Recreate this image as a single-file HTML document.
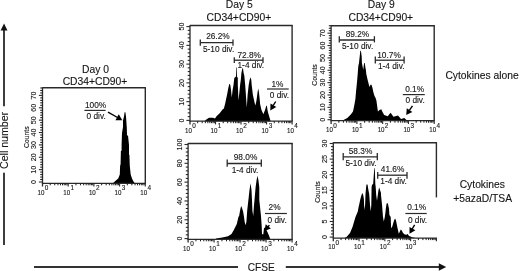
<!DOCTYPE html>
<html><head><meta charset="utf-8"><style>
html,body{margin:0;padding:0;background:#fff;width:520px;height:271px;overflow:hidden}
</style></head><body>
<svg width="520" height="271" viewBox="0 0 520 271" style="display:block;will-change:transform;font-family:'Liberation Sans', sans-serif">
<rect width="520" height="271" fill="#fff"/>
<polygon points="112.9,183.3 115.3,181 118.2,178.6 119.8,174.6 120.1,166 120.6,164 120.9,150.8 121.6,150.8 121.6,145 122,133 123,127 123,120.6 124,116.6 124.6,112.3 125.4,112.3 126,116.6 126.3,120.6 126.8,128 127,135.6 128,135.6 129,145 129,154.7 129.4,154.7 129.8,166 130.7,174.6 132,178.6 133.2,181 134.8,183.3" fill="#000"/>
<line x1="42.5" y1="87.8" x2="145.8" y2="87.8" stroke="#2a2a2a" stroke-width="1.4"/>
<line x1="145.3" y1="87.3" x2="145.3" y2="183.3" stroke="#2a2a2a" stroke-width="1.4"/>
<line x1="42.5" y1="87.2" x2="42.5" y2="186.5" stroke="#2a2a2a" stroke-width="1.3"/>
<line x1="41.9" y1="183.3" x2="145.9" y2="183.3" stroke="#2a2a2a" stroke-width="1.3"/>
<line x1="50.24" y1="183.3" x2="50.24" y2="185.3" stroke="#1a1a1a" stroke-width="1.0"/>
<line x1="54.76" y1="183.3" x2="54.76" y2="185.3" stroke="#1a1a1a" stroke-width="1.0"/>
<line x1="57.97" y1="183.3" x2="57.97" y2="185.3" stroke="#1a1a1a" stroke-width="1.0"/>
<line x1="60.46" y1="183.3" x2="60.46" y2="185.3" stroke="#1a1a1a" stroke-width="1.0"/>
<line x1="62.5" y1="183.3" x2="62.5" y2="185.3" stroke="#1a1a1a" stroke-width="1.0"/>
<line x1="64.22" y1="183.3" x2="64.22" y2="185.3" stroke="#1a1a1a" stroke-width="1.0"/>
<line x1="65.71" y1="183.3" x2="65.71" y2="185.3" stroke="#1a1a1a" stroke-width="1.0"/>
<line x1="67.02" y1="183.3" x2="67.02" y2="185.3" stroke="#1a1a1a" stroke-width="1.0"/>
<line x1="75.94" y1="183.3" x2="75.94" y2="185.3" stroke="#1a1a1a" stroke-width="1.0"/>
<line x1="80.46" y1="183.3" x2="80.46" y2="185.3" stroke="#1a1a1a" stroke-width="1.0"/>
<line x1="83.67" y1="183.3" x2="83.67" y2="185.3" stroke="#1a1a1a" stroke-width="1.0"/>
<line x1="86.16" y1="183.3" x2="86.16" y2="185.3" stroke="#1a1a1a" stroke-width="1.0"/>
<line x1="88.2" y1="183.3" x2="88.2" y2="185.3" stroke="#1a1a1a" stroke-width="1.0"/>
<line x1="89.92" y1="183.3" x2="89.92" y2="185.3" stroke="#1a1a1a" stroke-width="1.0"/>
<line x1="91.41" y1="183.3" x2="91.41" y2="185.3" stroke="#1a1a1a" stroke-width="1.0"/>
<line x1="92.72" y1="183.3" x2="92.72" y2="185.3" stroke="#1a1a1a" stroke-width="1.0"/>
<line x1="101.64" y1="183.3" x2="101.64" y2="185.3" stroke="#1a1a1a" stroke-width="1.0"/>
<line x1="106.16" y1="183.3" x2="106.16" y2="185.3" stroke="#1a1a1a" stroke-width="1.0"/>
<line x1="109.37" y1="183.3" x2="109.37" y2="185.3" stroke="#1a1a1a" stroke-width="1.0"/>
<line x1="111.86" y1="183.3" x2="111.86" y2="185.3" stroke="#1a1a1a" stroke-width="1.0"/>
<line x1="113.9" y1="183.3" x2="113.9" y2="185.3" stroke="#1a1a1a" stroke-width="1.0"/>
<line x1="115.62" y1="183.3" x2="115.62" y2="185.3" stroke="#1a1a1a" stroke-width="1.0"/>
<line x1="117.11" y1="183.3" x2="117.11" y2="185.3" stroke="#1a1a1a" stroke-width="1.0"/>
<line x1="118.42" y1="183.3" x2="118.42" y2="185.3" stroke="#1a1a1a" stroke-width="1.0"/>
<line x1="127.34" y1="183.3" x2="127.34" y2="185.3" stroke="#1a1a1a" stroke-width="1.0"/>
<line x1="131.86" y1="183.3" x2="131.86" y2="185.3" stroke="#1a1a1a" stroke-width="1.0"/>
<line x1="135.07" y1="183.3" x2="135.07" y2="185.3" stroke="#1a1a1a" stroke-width="1.0"/>
<line x1="137.56" y1="183.3" x2="137.56" y2="185.3" stroke="#1a1a1a" stroke-width="1.0"/>
<line x1="139.6" y1="183.3" x2="139.6" y2="185.3" stroke="#1a1a1a" stroke-width="1.0"/>
<line x1="141.32" y1="183.3" x2="141.32" y2="185.3" stroke="#1a1a1a" stroke-width="1.0"/>
<line x1="142.81" y1="183.3" x2="142.81" y2="185.3" stroke="#1a1a1a" stroke-width="1.0"/>
<line x1="144.12" y1="183.3" x2="144.12" y2="185.3" stroke="#1a1a1a" stroke-width="1.0"/>
<line x1="68.2" y1="183.3" x2="68.2" y2="186.5" stroke="#2a2a2a" stroke-width="1.1"/>
<line x1="93.9" y1="183.3" x2="93.9" y2="186.5" stroke="#2a2a2a" stroke-width="1.1"/>
<line x1="119.6" y1="183.3" x2="119.6" y2="186.5" stroke="#2a2a2a" stroke-width="1.1"/>
<line x1="145.3" y1="183.3" x2="145.3" y2="186.5" stroke="#2a2a2a" stroke-width="1.1"/>
<text x="37.5" y="194.6" font-size="7.0" text-anchor="start" fill="#151515" stroke="#151515" stroke-width="0.12" textLength="6.9" lengthAdjust="spacingAndGlyphs">10</text>
<text x="44.7" y="190.4" font-size="6.4" text-anchor="start" fill="#151515" stroke="#151515" stroke-width="0.12" >0</text>
<text x="63.2" y="194.6" font-size="7.0" text-anchor="start" fill="#151515" stroke="#151515" stroke-width="0.12" textLength="6.9" lengthAdjust="spacingAndGlyphs">10</text>
<text x="70.4" y="190.4" font-size="6.4" text-anchor="start" fill="#151515" stroke="#151515" stroke-width="0.12" >1</text>
<text x="88.9" y="194.6" font-size="7.0" text-anchor="start" fill="#151515" stroke="#151515" stroke-width="0.12" textLength="6.9" lengthAdjust="spacingAndGlyphs">10</text>
<text x="96.1" y="190.4" font-size="6.4" text-anchor="start" fill="#151515" stroke="#151515" stroke-width="0.12" >2</text>
<text x="114.6" y="194.6" font-size="7.0" text-anchor="start" fill="#151515" stroke="#151515" stroke-width="0.12" textLength="6.9" lengthAdjust="spacingAndGlyphs">10</text>
<text x="121.8" y="190.4" font-size="6.4" text-anchor="start" fill="#151515" stroke="#151515" stroke-width="0.12" >3</text>
<text x="140.3" y="194.6" font-size="7.0" text-anchor="start" fill="#151515" stroke="#151515" stroke-width="0.12" textLength="6.9" lengthAdjust="spacingAndGlyphs">10</text>
<text x="147.5" y="190.4" font-size="6.4" text-anchor="start" fill="#151515" stroke="#151515" stroke-width="0.12" >4</text>
<line x1="38.9" y1="182" x2="42.5" y2="182" stroke="#2a2a2a" stroke-width="1.1"/>
<line x1="40.2" y1="179.53" x2="42.5" y2="179.53" stroke="#1a1a1a" stroke-width="1.0"/>
<line x1="40.2" y1="177.05" x2="42.5" y2="177.05" stroke="#1a1a1a" stroke-width="1.0"/>
<line x1="40.2" y1="174.58" x2="42.5" y2="174.58" stroke="#1a1a1a" stroke-width="1.0"/>
<line x1="40.2" y1="172.1" x2="42.5" y2="172.1" stroke="#1a1a1a" stroke-width="1.0"/>
<line x1="38.9" y1="169.63" x2="42.5" y2="169.63" stroke="#2a2a2a" stroke-width="1.1"/>
<line x1="40.2" y1="167.16" x2="42.5" y2="167.16" stroke="#1a1a1a" stroke-width="1.0"/>
<line x1="40.2" y1="164.68" x2="42.5" y2="164.68" stroke="#1a1a1a" stroke-width="1.0"/>
<line x1="40.2" y1="162.21" x2="42.5" y2="162.21" stroke="#1a1a1a" stroke-width="1.0"/>
<line x1="40.2" y1="159.73" x2="42.5" y2="159.73" stroke="#1a1a1a" stroke-width="1.0"/>
<line x1="38.9" y1="157.26" x2="42.5" y2="157.26" stroke="#2a2a2a" stroke-width="1.1"/>
<line x1="40.2" y1="154.79" x2="42.5" y2="154.79" stroke="#1a1a1a" stroke-width="1.0"/>
<line x1="40.2" y1="152.31" x2="42.5" y2="152.31" stroke="#1a1a1a" stroke-width="1.0"/>
<line x1="40.2" y1="149.84" x2="42.5" y2="149.84" stroke="#1a1a1a" stroke-width="1.0"/>
<line x1="40.2" y1="147.36" x2="42.5" y2="147.36" stroke="#1a1a1a" stroke-width="1.0"/>
<line x1="38.9" y1="144.89" x2="42.5" y2="144.89" stroke="#2a2a2a" stroke-width="1.1"/>
<line x1="40.2" y1="142.42" x2="42.5" y2="142.42" stroke="#1a1a1a" stroke-width="1.0"/>
<line x1="40.2" y1="139.94" x2="42.5" y2="139.94" stroke="#1a1a1a" stroke-width="1.0"/>
<line x1="40.2" y1="137.47" x2="42.5" y2="137.47" stroke="#1a1a1a" stroke-width="1.0"/>
<line x1="40.2" y1="134.99" x2="42.5" y2="134.99" stroke="#1a1a1a" stroke-width="1.0"/>
<line x1="38.9" y1="132.52" x2="42.5" y2="132.52" stroke="#2a2a2a" stroke-width="1.1"/>
<line x1="40.2" y1="130.05" x2="42.5" y2="130.05" stroke="#1a1a1a" stroke-width="1.0"/>
<line x1="40.2" y1="127.57" x2="42.5" y2="127.57" stroke="#1a1a1a" stroke-width="1.0"/>
<line x1="40.2" y1="125.1" x2="42.5" y2="125.1" stroke="#1a1a1a" stroke-width="1.0"/>
<line x1="40.2" y1="122.62" x2="42.5" y2="122.62" stroke="#1a1a1a" stroke-width="1.0"/>
<line x1="38.9" y1="120.15" x2="42.5" y2="120.15" stroke="#2a2a2a" stroke-width="1.1"/>
<line x1="40.2" y1="117.68" x2="42.5" y2="117.68" stroke="#1a1a1a" stroke-width="1.0"/>
<line x1="40.2" y1="115.2" x2="42.5" y2="115.2" stroke="#1a1a1a" stroke-width="1.0"/>
<line x1="40.2" y1="112.73" x2="42.5" y2="112.73" stroke="#1a1a1a" stroke-width="1.0"/>
<line x1="40.2" y1="110.25" x2="42.5" y2="110.25" stroke="#1a1a1a" stroke-width="1.0"/>
<line x1="38.9" y1="107.78" x2="42.5" y2="107.78" stroke="#2a2a2a" stroke-width="1.1"/>
<line x1="40.2" y1="105.31" x2="42.5" y2="105.31" stroke="#1a1a1a" stroke-width="1.0"/>
<line x1="40.2" y1="102.83" x2="42.5" y2="102.83" stroke="#1a1a1a" stroke-width="1.0"/>
<line x1="40.2" y1="100.36" x2="42.5" y2="100.36" stroke="#1a1a1a" stroke-width="1.0"/>
<line x1="40.2" y1="97.88" x2="42.5" y2="97.88" stroke="#1a1a1a" stroke-width="1.0"/>
<line x1="38.9" y1="95.41" x2="42.5" y2="95.41" stroke="#2a2a2a" stroke-width="1.1"/>
<line x1="40.2" y1="92.94" x2="42.5" y2="92.94" stroke="#1a1a1a" stroke-width="1.0"/>
<line x1="40.2" y1="90.46" x2="42.5" y2="90.46" stroke="#1a1a1a" stroke-width="1.0"/>
<line x1="40.2" y1="87.99" x2="42.5" y2="87.99" stroke="#1a1a1a" stroke-width="1.0"/>
<text transform="translate(33.5,182) rotate(-90)" x="0" y="2.59" font-size="7.2" text-anchor="middle" fill="#151515" stroke="#151515" stroke-width="0.12" >0</text>
<text transform="translate(33.5,169.63) rotate(-90)" x="0" y="2.59" font-size="7.2" text-anchor="middle" fill="#151515" stroke="#151515" stroke-width="0.12" >10</text>
<text transform="translate(33.5,157.26) rotate(-90)" x="0" y="2.59" font-size="7.2" text-anchor="middle" fill="#151515" stroke="#151515" stroke-width="0.12" >20</text>
<text transform="translate(33.5,144.89) rotate(-90)" x="0" y="2.59" font-size="7.2" text-anchor="middle" fill="#151515" stroke="#151515" stroke-width="0.12" >30</text>
<text transform="translate(33.5,132.52) rotate(-90)" x="0" y="2.59" font-size="7.2" text-anchor="middle" fill="#151515" stroke="#151515" stroke-width="0.12" >40</text>
<text transform="translate(33.5,120.15) rotate(-90)" x="0" y="2.59" font-size="7.2" text-anchor="middle" fill="#151515" stroke="#151515" stroke-width="0.12" >50</text>
<text transform="translate(33.5,107.78) rotate(-90)" x="0" y="2.59" font-size="7.2" text-anchor="middle" fill="#151515" stroke="#151515" stroke-width="0.12" >60</text>
<text transform="translate(33.5,95.41) rotate(-90)" x="0" y="2.59" font-size="7.2" text-anchor="middle" fill="#151515" stroke="#151515" stroke-width="0.12" >70</text>
<text transform="translate(26.2,137.2) rotate(-90)" x="0" y="2.45" font-size="6.8" text-anchor="middle" fill="#151515" stroke="#151515" stroke-width="0.12" >Counts</text>
<text x="95.5" y="72.7" font-size="10.3" text-anchor="middle" fill="#151515" stroke="#151515" stroke-width="0.12" >Day 0</text>
<text x="95" y="84.6" font-size="10.3" text-anchor="middle" fill="#151515" stroke="#151515" stroke-width="0.12" >CD34+CD90+</text>
<text x="95.6" y="107.6" font-size="8.3" text-anchor="middle" fill="#151515" stroke="#151515" stroke-width="0.12" >100%</text>
<line x1="84.4" y1="110.4" x2="105.6" y2="110.4" stroke="#2a2a2a" stroke-width="1.2"/>
<text x="96.2" y="119.3" font-size="8.3" text-anchor="middle" fill="#151515" stroke="#151515" stroke-width="0.12" >0 div.</text>
<line x1="108" y1="112.1" x2="117.51" y2="117.49" stroke="#000" stroke-width="1.4"/>
<polygon points="122.3,120.2 115.4,120.2 118.76,114.28" fill="#000"/>
<polygon points="204.5,121.2 206,119.8 209,117.8 213,117.8 215,118.4 216.5,116.3 219.7,113.2 222.5,109.5 223.9,108.5 225.3,103 225.9,100 227,95 228.3,88 229.2,84.5 229.7,83.8 230.3,85 231,90 231.8,97.4 232.6,90 233.5,85 234.3,78 236,76.4 236.3,67.5 236.8,67.5 237,76.4 237.8,78 237.8,85 238.5,100.5 239.4,92 240.1,85 240.8,80 241.2,75.6 241.4,72.9 242.4,68.3 243,68.3 243.6,72.9 244.3,75.6 245.2,85 246.8,107.5 247.6,95 248.7,85 249.6,80 250.6,77.2 251.3,80 251.7,85 252.9,95 254.8,103.6 255.3,105.5 256.2,102 256.8,98.2 257.6,92 258.3,88.5 258.9,92 259.6,98.2 260.1,104 261.4,109.7 263.4,114.2 265,110 266.3,105.7 266.9,105.7 267.5,110 268.2,113 269.5,117.4 270.7,121.2" fill="#000"/>
<line x1="190" y1="25.5" x2="292.6" y2="25.5" stroke="#2a2a2a" stroke-width="1.4"/>
<line x1="292.1" y1="25" x2="292.1" y2="121.2" stroke="#2a2a2a" stroke-width="1.4"/>
<line x1="190" y1="24.9" x2="190" y2="124.4" stroke="#2a2a2a" stroke-width="1.3"/>
<line x1="189.4" y1="121.2" x2="292.7" y2="121.2" stroke="#2a2a2a" stroke-width="1.3"/>
<line x1="197.68" y1="121.2" x2="197.68" y2="123.2" stroke="#1a1a1a" stroke-width="1.0"/>
<line x1="202.18" y1="121.2" x2="202.18" y2="123.2" stroke="#1a1a1a" stroke-width="1.0"/>
<line x1="205.37" y1="121.2" x2="205.37" y2="123.2" stroke="#1a1a1a" stroke-width="1.0"/>
<line x1="207.84" y1="121.2" x2="207.84" y2="123.2" stroke="#1a1a1a" stroke-width="1.0"/>
<line x1="209.86" y1="121.2" x2="209.86" y2="123.2" stroke="#1a1a1a" stroke-width="1.0"/>
<line x1="211.57" y1="121.2" x2="211.57" y2="123.2" stroke="#1a1a1a" stroke-width="1.0"/>
<line x1="213.05" y1="121.2" x2="213.05" y2="123.2" stroke="#1a1a1a" stroke-width="1.0"/>
<line x1="214.36" y1="121.2" x2="214.36" y2="123.2" stroke="#1a1a1a" stroke-width="1.0"/>
<line x1="223.21" y1="121.2" x2="223.21" y2="123.2" stroke="#1a1a1a" stroke-width="1.0"/>
<line x1="227.7" y1="121.2" x2="227.7" y2="123.2" stroke="#1a1a1a" stroke-width="1.0"/>
<line x1="230.89" y1="121.2" x2="230.89" y2="123.2" stroke="#1a1a1a" stroke-width="1.0"/>
<line x1="233.37" y1="121.2" x2="233.37" y2="123.2" stroke="#1a1a1a" stroke-width="1.0"/>
<line x1="235.39" y1="121.2" x2="235.39" y2="123.2" stroke="#1a1a1a" stroke-width="1.0"/>
<line x1="237.1" y1="121.2" x2="237.1" y2="123.2" stroke="#1a1a1a" stroke-width="1.0"/>
<line x1="238.58" y1="121.2" x2="238.58" y2="123.2" stroke="#1a1a1a" stroke-width="1.0"/>
<line x1="239.88" y1="121.2" x2="239.88" y2="123.2" stroke="#1a1a1a" stroke-width="1.0"/>
<line x1="248.73" y1="121.2" x2="248.73" y2="123.2" stroke="#1a1a1a" stroke-width="1.0"/>
<line x1="253.23" y1="121.2" x2="253.23" y2="123.2" stroke="#1a1a1a" stroke-width="1.0"/>
<line x1="256.42" y1="121.2" x2="256.42" y2="123.2" stroke="#1a1a1a" stroke-width="1.0"/>
<line x1="258.89" y1="121.2" x2="258.89" y2="123.2" stroke="#1a1a1a" stroke-width="1.0"/>
<line x1="260.91" y1="121.2" x2="260.91" y2="123.2" stroke="#1a1a1a" stroke-width="1.0"/>
<line x1="262.62" y1="121.2" x2="262.62" y2="123.2" stroke="#1a1a1a" stroke-width="1.0"/>
<line x1="264.1" y1="121.2" x2="264.1" y2="123.2" stroke="#1a1a1a" stroke-width="1.0"/>
<line x1="265.41" y1="121.2" x2="265.41" y2="123.2" stroke="#1a1a1a" stroke-width="1.0"/>
<line x1="274.26" y1="121.2" x2="274.26" y2="123.2" stroke="#1a1a1a" stroke-width="1.0"/>
<line x1="278.75" y1="121.2" x2="278.75" y2="123.2" stroke="#1a1a1a" stroke-width="1.0"/>
<line x1="281.94" y1="121.2" x2="281.94" y2="123.2" stroke="#1a1a1a" stroke-width="1.0"/>
<line x1="284.42" y1="121.2" x2="284.42" y2="123.2" stroke="#1a1a1a" stroke-width="1.0"/>
<line x1="286.44" y1="121.2" x2="286.44" y2="123.2" stroke="#1a1a1a" stroke-width="1.0"/>
<line x1="288.15" y1="121.2" x2="288.15" y2="123.2" stroke="#1a1a1a" stroke-width="1.0"/>
<line x1="289.63" y1="121.2" x2="289.63" y2="123.2" stroke="#1a1a1a" stroke-width="1.0"/>
<line x1="290.93" y1="121.2" x2="290.93" y2="123.2" stroke="#1a1a1a" stroke-width="1.0"/>
<line x1="215.53" y1="121.2" x2="215.53" y2="124.4" stroke="#2a2a2a" stroke-width="1.1"/>
<line x1="241.05" y1="121.2" x2="241.05" y2="124.4" stroke="#2a2a2a" stroke-width="1.1"/>
<line x1="266.58" y1="121.2" x2="266.58" y2="124.4" stroke="#2a2a2a" stroke-width="1.1"/>
<line x1="292.1" y1="121.2" x2="292.1" y2="124.4" stroke="#2a2a2a" stroke-width="1.1"/>
<text x="185" y="132.5" font-size="7.0" text-anchor="start" fill="#151515" stroke="#151515" stroke-width="0.12" textLength="6.9" lengthAdjust="spacingAndGlyphs">10</text>
<text x="192.2" y="128.3" font-size="6.4" text-anchor="start" fill="#151515" stroke="#151515" stroke-width="0.12" >0</text>
<text x="210.53" y="132.5" font-size="7.0" text-anchor="start" fill="#151515" stroke="#151515" stroke-width="0.12" textLength="6.9" lengthAdjust="spacingAndGlyphs">10</text>
<text x="217.72" y="128.3" font-size="6.4" text-anchor="start" fill="#151515" stroke="#151515" stroke-width="0.12" >1</text>
<text x="236.05" y="132.5" font-size="7.0" text-anchor="start" fill="#151515" stroke="#151515" stroke-width="0.12" textLength="6.9" lengthAdjust="spacingAndGlyphs">10</text>
<text x="243.25" y="128.3" font-size="6.4" text-anchor="start" fill="#151515" stroke="#151515" stroke-width="0.12" >2</text>
<text x="261.58" y="132.5" font-size="7.0" text-anchor="start" fill="#151515" stroke="#151515" stroke-width="0.12" textLength="6.9" lengthAdjust="spacingAndGlyphs">10</text>
<text x="268.78" y="128.3" font-size="6.4" text-anchor="start" fill="#151515" stroke="#151515" stroke-width="0.12" >3</text>
<text x="287.1" y="132.5" font-size="7.0" text-anchor="start" fill="#151515" stroke="#151515" stroke-width="0.12" textLength="6.9" lengthAdjust="spacingAndGlyphs">10</text>
<text x="294.3" y="128.3" font-size="6.4" text-anchor="start" fill="#151515" stroke="#151515" stroke-width="0.12" >4</text>
<line x1="186.4" y1="120.4" x2="190" y2="120.4" stroke="#2a2a2a" stroke-width="1.1"/>
<line x1="187.7" y1="116.65" x2="190" y2="116.65" stroke="#1a1a1a" stroke-width="1.0"/>
<line x1="187.7" y1="112.9" x2="190" y2="112.9" stroke="#1a1a1a" stroke-width="1.0"/>
<line x1="187.7" y1="109.14" x2="190" y2="109.14" stroke="#1a1a1a" stroke-width="1.0"/>
<line x1="187.7" y1="105.39" x2="190" y2="105.39" stroke="#1a1a1a" stroke-width="1.0"/>
<line x1="186.4" y1="101.64" x2="190" y2="101.64" stroke="#2a2a2a" stroke-width="1.1"/>
<line x1="187.7" y1="97.89" x2="190" y2="97.89" stroke="#1a1a1a" stroke-width="1.0"/>
<line x1="187.7" y1="94.14" x2="190" y2="94.14" stroke="#1a1a1a" stroke-width="1.0"/>
<line x1="187.7" y1="90.38" x2="190" y2="90.38" stroke="#1a1a1a" stroke-width="1.0"/>
<line x1="187.7" y1="86.63" x2="190" y2="86.63" stroke="#1a1a1a" stroke-width="1.0"/>
<line x1="186.4" y1="82.88" x2="190" y2="82.88" stroke="#2a2a2a" stroke-width="1.1"/>
<line x1="187.7" y1="79.13" x2="190" y2="79.13" stroke="#1a1a1a" stroke-width="1.0"/>
<line x1="187.7" y1="75.38" x2="190" y2="75.38" stroke="#1a1a1a" stroke-width="1.0"/>
<line x1="187.7" y1="71.62" x2="190" y2="71.62" stroke="#1a1a1a" stroke-width="1.0"/>
<line x1="187.7" y1="67.87" x2="190" y2="67.87" stroke="#1a1a1a" stroke-width="1.0"/>
<line x1="186.4" y1="64.12" x2="190" y2="64.12" stroke="#2a2a2a" stroke-width="1.1"/>
<line x1="187.7" y1="60.37" x2="190" y2="60.37" stroke="#1a1a1a" stroke-width="1.0"/>
<line x1="187.7" y1="56.62" x2="190" y2="56.62" stroke="#1a1a1a" stroke-width="1.0"/>
<line x1="187.7" y1="52.86" x2="190" y2="52.86" stroke="#1a1a1a" stroke-width="1.0"/>
<line x1="187.7" y1="49.11" x2="190" y2="49.11" stroke="#1a1a1a" stroke-width="1.0"/>
<line x1="186.4" y1="45.36" x2="190" y2="45.36" stroke="#2a2a2a" stroke-width="1.1"/>
<line x1="187.7" y1="41.61" x2="190" y2="41.61" stroke="#1a1a1a" stroke-width="1.0"/>
<line x1="187.7" y1="37.86" x2="190" y2="37.86" stroke="#1a1a1a" stroke-width="1.0"/>
<line x1="187.7" y1="34.1" x2="190" y2="34.1" stroke="#1a1a1a" stroke-width="1.0"/>
<line x1="187.7" y1="30.35" x2="190" y2="30.35" stroke="#1a1a1a" stroke-width="1.0"/>
<line x1="186.4" y1="26.6" x2="190" y2="26.6" stroke="#2a2a2a" stroke-width="1.1"/>
<text transform="translate(181,120.4) rotate(-90)" x="0" y="2.59" font-size="7.2" text-anchor="middle" fill="#151515" stroke="#151515" stroke-width="0.12" >0</text>
<text transform="translate(181,101.64) rotate(-90)" x="0" y="2.59" font-size="7.2" text-anchor="middle" fill="#151515" stroke="#151515" stroke-width="0.12" >10</text>
<text transform="translate(181,82.88) rotate(-90)" x="0" y="2.59" font-size="7.2" text-anchor="middle" fill="#151515" stroke="#151515" stroke-width="0.12" >20</text>
<text transform="translate(181,64.12) rotate(-90)" x="0" y="2.59" font-size="7.2" text-anchor="middle" fill="#151515" stroke="#151515" stroke-width="0.12" >30</text>
<text transform="translate(181,45.36) rotate(-90)" x="0" y="2.59" font-size="7.2" text-anchor="middle" fill="#151515" stroke="#151515" stroke-width="0.12" >40</text>
<text transform="translate(181,26.6) rotate(-90)" x="0" y="2.59" font-size="7.2" text-anchor="middle" fill="#151515" stroke="#151515" stroke-width="0.12" >50</text>
<text x="239.3" y="8" font-size="10.3" text-anchor="middle" fill="#151515" stroke="#151515" stroke-width="0.12" >Day 5</text>
<text x="238.9" y="20.5" font-size="10.3" text-anchor="middle" fill="#151515" stroke="#151515" stroke-width="0.12" >CD34+CD90+</text>
<text x="217.9" y="38.5" font-size="8.3" text-anchor="middle" fill="#151515" stroke="#151515" stroke-width="0.12" >26.2%</text>
<line x1="200.3" y1="42.6" x2="233" y2="42.6" stroke="#2a2a2a" stroke-width="1.3"/>
<line x1="200.3" y1="39.5" x2="200.3" y2="45.8" stroke="#2a2a2a" stroke-width="1.3"/>
<line x1="233" y1="39.5" x2="233" y2="45.8" stroke="#2a2a2a" stroke-width="1.3"/>
<text x="218.6" y="51.9" font-size="8.3" text-anchor="middle" fill="#151515" stroke="#151515" stroke-width="0.12" >5-10 div.</text>
<text x="249.2" y="58.3" font-size="8.3" text-anchor="middle" fill="#151515" stroke="#151515" stroke-width="0.12" >72.8%</text>
<line x1="234.3" y1="60.2" x2="263" y2="60.2" stroke="#2a2a2a" stroke-width="1.3"/>
<line x1="234.3" y1="57.3" x2="234.3" y2="63.1" stroke="#2a2a2a" stroke-width="1.3"/>
<line x1="263" y1="57.3" x2="263" y2="63.1" stroke="#2a2a2a" stroke-width="1.3"/>
<text x="250.8" y="67.7" font-size="8.3" text-anchor="middle" fill="#151515" stroke="#151515" stroke-width="0.12" >1-4 div.</text>
<text x="277.5" y="86.5" font-size="8.3" text-anchor="middle" fill="#151515" stroke="#151515" stroke-width="0.12" >1%</text>
<line x1="267" y1="89" x2="288.7" y2="89" stroke="#2a2a2a" stroke-width="1.2"/>
<text x="279.4" y="98.4" font-size="8.3" text-anchor="middle" fill="#151515" stroke="#151515" stroke-width="0.12" >0 div.</text>
<line x1="275.7" y1="101.5" x2="273.15" y2="105.7" stroke="#000" stroke-width="1.4"/>
<polygon points="270.3,110.4 270.51,103.51 276.32,107.03" fill="#000"/>
<polygon points="342.5,120.7 344,119.8 347.3,118 350.8,114.5 353,111.6 354.2,105.8 355.4,99 356,92 357.1,81 357.7,74 358.3,66 359,63 359.3,60 359.7,56.6 360.3,50.8 360.9,50.8 361.7,56.6 361.9,63.1 363.2,69.7 364.1,63.1 364.7,63.1 365.5,68 365.9,70 366.3,74 367.9,81 369.5,87 370.4,85 371,84.6 371.6,85 372.5,88 373.3,92 374.5,96 375.6,98 376.4,100.5 377.9,111.6 379.5,110 381.3,109.3 382.5,112 384.2,115 387.7,116.2 390.6,112.8 393.5,116.8 398,115.6 401,119.1 404.4,118 406.7,120.3 407.2,120.7" fill="#000"/>
<line x1="331.1" y1="25.7" x2="434.7" y2="25.7" stroke="#2a2a2a" stroke-width="1.4"/>
<line x1="434.2" y1="25.2" x2="434.2" y2="120.7" stroke="#2a2a2a" stroke-width="1.4"/>
<line x1="331.1" y1="25.1" x2="331.1" y2="123.9" stroke="#2a2a2a" stroke-width="1.3"/>
<line x1="330.5" y1="120.7" x2="434.8" y2="120.7" stroke="#2a2a2a" stroke-width="1.3"/>
<line x1="338.86" y1="120.7" x2="338.86" y2="122.7" stroke="#1a1a1a" stroke-width="1.0"/>
<line x1="343.4" y1="120.7" x2="343.4" y2="122.7" stroke="#1a1a1a" stroke-width="1.0"/>
<line x1="346.62" y1="120.7" x2="346.62" y2="122.7" stroke="#1a1a1a" stroke-width="1.0"/>
<line x1="349.12" y1="120.7" x2="349.12" y2="122.7" stroke="#1a1a1a" stroke-width="1.0"/>
<line x1="351.16" y1="120.7" x2="351.16" y2="122.7" stroke="#1a1a1a" stroke-width="1.0"/>
<line x1="352.88" y1="120.7" x2="352.88" y2="122.7" stroke="#1a1a1a" stroke-width="1.0"/>
<line x1="354.38" y1="120.7" x2="354.38" y2="122.7" stroke="#1a1a1a" stroke-width="1.0"/>
<line x1="355.7" y1="120.7" x2="355.7" y2="122.7" stroke="#1a1a1a" stroke-width="1.0"/>
<line x1="364.63" y1="120.7" x2="364.63" y2="122.7" stroke="#1a1a1a" stroke-width="1.0"/>
<line x1="369.17" y1="120.7" x2="369.17" y2="122.7" stroke="#1a1a1a" stroke-width="1.0"/>
<line x1="372.39" y1="120.7" x2="372.39" y2="122.7" stroke="#1a1a1a" stroke-width="1.0"/>
<line x1="374.89" y1="120.7" x2="374.89" y2="122.7" stroke="#1a1a1a" stroke-width="1.0"/>
<line x1="376.93" y1="120.7" x2="376.93" y2="122.7" stroke="#1a1a1a" stroke-width="1.0"/>
<line x1="378.66" y1="120.7" x2="378.66" y2="122.7" stroke="#1a1a1a" stroke-width="1.0"/>
<line x1="380.15" y1="120.7" x2="380.15" y2="122.7" stroke="#1a1a1a" stroke-width="1.0"/>
<line x1="381.47" y1="120.7" x2="381.47" y2="122.7" stroke="#1a1a1a" stroke-width="1.0"/>
<line x1="390.41" y1="120.7" x2="390.41" y2="122.7" stroke="#1a1a1a" stroke-width="1.0"/>
<line x1="394.95" y1="120.7" x2="394.95" y2="122.7" stroke="#1a1a1a" stroke-width="1.0"/>
<line x1="398.17" y1="120.7" x2="398.17" y2="122.7" stroke="#1a1a1a" stroke-width="1.0"/>
<line x1="400.67" y1="120.7" x2="400.67" y2="122.7" stroke="#1a1a1a" stroke-width="1.0"/>
<line x1="402.71" y1="120.7" x2="402.71" y2="122.7" stroke="#1a1a1a" stroke-width="1.0"/>
<line x1="404.43" y1="120.7" x2="404.43" y2="122.7" stroke="#1a1a1a" stroke-width="1.0"/>
<line x1="405.93" y1="120.7" x2="405.93" y2="122.7" stroke="#1a1a1a" stroke-width="1.0"/>
<line x1="407.25" y1="120.7" x2="407.25" y2="122.7" stroke="#1a1a1a" stroke-width="1.0"/>
<line x1="416.18" y1="120.7" x2="416.18" y2="122.7" stroke="#1a1a1a" stroke-width="1.0"/>
<line x1="420.72" y1="120.7" x2="420.72" y2="122.7" stroke="#1a1a1a" stroke-width="1.0"/>
<line x1="423.94" y1="120.7" x2="423.94" y2="122.7" stroke="#1a1a1a" stroke-width="1.0"/>
<line x1="426.44" y1="120.7" x2="426.44" y2="122.7" stroke="#1a1a1a" stroke-width="1.0"/>
<line x1="428.48" y1="120.7" x2="428.48" y2="122.7" stroke="#1a1a1a" stroke-width="1.0"/>
<line x1="430.21" y1="120.7" x2="430.21" y2="122.7" stroke="#1a1a1a" stroke-width="1.0"/>
<line x1="431.7" y1="120.7" x2="431.7" y2="122.7" stroke="#1a1a1a" stroke-width="1.0"/>
<line x1="433.02" y1="120.7" x2="433.02" y2="122.7" stroke="#1a1a1a" stroke-width="1.0"/>
<line x1="356.88" y1="120.7" x2="356.88" y2="123.9" stroke="#2a2a2a" stroke-width="1.1"/>
<line x1="382.65" y1="120.7" x2="382.65" y2="123.9" stroke="#2a2a2a" stroke-width="1.1"/>
<line x1="408.43" y1="120.7" x2="408.43" y2="123.9" stroke="#2a2a2a" stroke-width="1.1"/>
<line x1="434.2" y1="120.7" x2="434.2" y2="123.9" stroke="#2a2a2a" stroke-width="1.1"/>
<text x="326.1" y="132" font-size="7.0" text-anchor="start" fill="#151515" stroke="#151515" stroke-width="0.12" textLength="6.9" lengthAdjust="spacingAndGlyphs">10</text>
<text x="333.3" y="127.8" font-size="6.4" text-anchor="start" fill="#151515" stroke="#151515" stroke-width="0.12" >0</text>
<text x="351.88" y="132" font-size="7.0" text-anchor="start" fill="#151515" stroke="#151515" stroke-width="0.12" textLength="6.9" lengthAdjust="spacingAndGlyphs">10</text>
<text x="359.07" y="127.8" font-size="6.4" text-anchor="start" fill="#151515" stroke="#151515" stroke-width="0.12" >1</text>
<text x="377.65" y="132" font-size="7.0" text-anchor="start" fill="#151515" stroke="#151515" stroke-width="0.12" textLength="6.9" lengthAdjust="spacingAndGlyphs">10</text>
<text x="384.85" y="127.8" font-size="6.4" text-anchor="start" fill="#151515" stroke="#151515" stroke-width="0.12" >2</text>
<text x="403.43" y="132" font-size="7.0" text-anchor="start" fill="#151515" stroke="#151515" stroke-width="0.12" textLength="6.9" lengthAdjust="spacingAndGlyphs">10</text>
<text x="410.62" y="127.8" font-size="6.4" text-anchor="start" fill="#151515" stroke="#151515" stroke-width="0.12" >3</text>
<text x="429.2" y="132" font-size="7.0" text-anchor="start" fill="#151515" stroke="#151515" stroke-width="0.12" textLength="6.9" lengthAdjust="spacingAndGlyphs">10</text>
<text x="436.4" y="127.8" font-size="6.4" text-anchor="start" fill="#151515" stroke="#151515" stroke-width="0.12" >4</text>
<line x1="327.5" y1="119.7" x2="331.1" y2="119.7" stroke="#2a2a2a" stroke-width="1.1"/>
<line x1="328.8" y1="117.23" x2="331.1" y2="117.23" stroke="#1a1a1a" stroke-width="1.0"/>
<line x1="328.8" y1="114.76" x2="331.1" y2="114.76" stroke="#1a1a1a" stroke-width="1.0"/>
<line x1="328.8" y1="112.28" x2="331.1" y2="112.28" stroke="#1a1a1a" stroke-width="1.0"/>
<line x1="328.8" y1="109.81" x2="331.1" y2="109.81" stroke="#1a1a1a" stroke-width="1.0"/>
<line x1="327.5" y1="107.34" x2="331.1" y2="107.34" stroke="#2a2a2a" stroke-width="1.1"/>
<line x1="328.8" y1="104.87" x2="331.1" y2="104.87" stroke="#1a1a1a" stroke-width="1.0"/>
<line x1="328.8" y1="102.4" x2="331.1" y2="102.4" stroke="#1a1a1a" stroke-width="1.0"/>
<line x1="328.8" y1="99.92" x2="331.1" y2="99.92" stroke="#1a1a1a" stroke-width="1.0"/>
<line x1="328.8" y1="97.45" x2="331.1" y2="97.45" stroke="#1a1a1a" stroke-width="1.0"/>
<line x1="327.5" y1="94.98" x2="331.1" y2="94.98" stroke="#2a2a2a" stroke-width="1.1"/>
<line x1="328.8" y1="92.51" x2="331.1" y2="92.51" stroke="#1a1a1a" stroke-width="1.0"/>
<line x1="328.8" y1="90.04" x2="331.1" y2="90.04" stroke="#1a1a1a" stroke-width="1.0"/>
<line x1="328.8" y1="87.56" x2="331.1" y2="87.56" stroke="#1a1a1a" stroke-width="1.0"/>
<line x1="328.8" y1="85.09" x2="331.1" y2="85.09" stroke="#1a1a1a" stroke-width="1.0"/>
<line x1="327.5" y1="82.62" x2="331.1" y2="82.62" stroke="#2a2a2a" stroke-width="1.1"/>
<line x1="328.8" y1="80.15" x2="331.1" y2="80.15" stroke="#1a1a1a" stroke-width="1.0"/>
<line x1="328.8" y1="77.68" x2="331.1" y2="77.68" stroke="#1a1a1a" stroke-width="1.0"/>
<line x1="328.8" y1="75.2" x2="331.1" y2="75.2" stroke="#1a1a1a" stroke-width="1.0"/>
<line x1="328.8" y1="72.73" x2="331.1" y2="72.73" stroke="#1a1a1a" stroke-width="1.0"/>
<line x1="327.5" y1="70.26" x2="331.1" y2="70.26" stroke="#2a2a2a" stroke-width="1.1"/>
<line x1="328.8" y1="67.79" x2="331.1" y2="67.79" stroke="#1a1a1a" stroke-width="1.0"/>
<line x1="328.8" y1="65.32" x2="331.1" y2="65.32" stroke="#1a1a1a" stroke-width="1.0"/>
<line x1="328.8" y1="62.84" x2="331.1" y2="62.84" stroke="#1a1a1a" stroke-width="1.0"/>
<line x1="328.8" y1="60.37" x2="331.1" y2="60.37" stroke="#1a1a1a" stroke-width="1.0"/>
<line x1="327.5" y1="57.9" x2="331.1" y2="57.9" stroke="#2a2a2a" stroke-width="1.1"/>
<line x1="328.8" y1="55.43" x2="331.1" y2="55.43" stroke="#1a1a1a" stroke-width="1.0"/>
<line x1="328.8" y1="52.96" x2="331.1" y2="52.96" stroke="#1a1a1a" stroke-width="1.0"/>
<line x1="328.8" y1="50.48" x2="331.1" y2="50.48" stroke="#1a1a1a" stroke-width="1.0"/>
<line x1="328.8" y1="48.01" x2="331.1" y2="48.01" stroke="#1a1a1a" stroke-width="1.0"/>
<line x1="327.5" y1="45.54" x2="331.1" y2="45.54" stroke="#2a2a2a" stroke-width="1.1"/>
<line x1="328.8" y1="43.07" x2="331.1" y2="43.07" stroke="#1a1a1a" stroke-width="1.0"/>
<line x1="328.8" y1="40.6" x2="331.1" y2="40.6" stroke="#1a1a1a" stroke-width="1.0"/>
<line x1="328.8" y1="38.12" x2="331.1" y2="38.12" stroke="#1a1a1a" stroke-width="1.0"/>
<line x1="328.8" y1="35.65" x2="331.1" y2="35.65" stroke="#1a1a1a" stroke-width="1.0"/>
<line x1="327.5" y1="33.18" x2="331.1" y2="33.18" stroke="#2a2a2a" stroke-width="1.1"/>
<line x1="328.8" y1="30.71" x2="331.1" y2="30.71" stroke="#1a1a1a" stroke-width="1.0"/>
<line x1="328.8" y1="28.24" x2="331.1" y2="28.24" stroke="#1a1a1a" stroke-width="1.0"/>
<line x1="328.8" y1="25.76" x2="331.1" y2="25.76" stroke="#1a1a1a" stroke-width="1.0"/>
<text transform="translate(322.1,119.7) rotate(-90)" x="0" y="2.59" font-size="7.2" text-anchor="middle" fill="#151515" stroke="#151515" stroke-width="0.12" >0</text>
<text transform="translate(322.1,107.34) rotate(-90)" x="0" y="2.59" font-size="7.2" text-anchor="middle" fill="#151515" stroke="#151515" stroke-width="0.12" >10</text>
<text transform="translate(322.1,94.98) rotate(-90)" x="0" y="2.59" font-size="7.2" text-anchor="middle" fill="#151515" stroke="#151515" stroke-width="0.12" >20</text>
<text transform="translate(322.1,82.62) rotate(-90)" x="0" y="2.59" font-size="7.2" text-anchor="middle" fill="#151515" stroke="#151515" stroke-width="0.12" >30</text>
<text transform="translate(322.1,70.26) rotate(-90)" x="0" y="2.59" font-size="7.2" text-anchor="middle" fill="#151515" stroke="#151515" stroke-width="0.12" >40</text>
<text transform="translate(322.1,57.9) rotate(-90)" x="0" y="2.59" font-size="7.2" text-anchor="middle" fill="#151515" stroke="#151515" stroke-width="0.12" >50</text>
<text transform="translate(322.1,45.54) rotate(-90)" x="0" y="2.59" font-size="7.2" text-anchor="middle" fill="#151515" stroke="#151515" stroke-width="0.12" >60</text>
<text transform="translate(322.1,33.18) rotate(-90)" x="0" y="2.59" font-size="7.2" text-anchor="middle" fill="#151515" stroke="#151515" stroke-width="0.12" >70</text>
<text transform="translate(314.8,75) rotate(-90)" x="0" y="2.45" font-size="6.8" text-anchor="middle" fill="#151515" stroke="#151515" stroke-width="0.12" >Counts</text>
<text x="381.2" y="8" font-size="10.3" text-anchor="middle" fill="#151515" stroke="#151515" stroke-width="0.12" >Day 9</text>
<text x="380.8" y="20.5" font-size="10.3" text-anchor="middle" fill="#151515" stroke="#151515" stroke-width="0.12" >CD34+CD90+</text>
<text x="357.4" y="37" font-size="8.3" text-anchor="middle" fill="#151515" stroke="#151515" stroke-width="0.12" >89.2%</text>
<line x1="339.3" y1="40" x2="374.4" y2="40" stroke="#2a2a2a" stroke-width="1.3"/>
<line x1="339.3" y1="36.2" x2="339.3" y2="42.4" stroke="#2a2a2a" stroke-width="1.3"/>
<line x1="374.4" y1="36.2" x2="374.4" y2="42.4" stroke="#2a2a2a" stroke-width="1.3"/>
<text x="357.6" y="48.6" font-size="8.3" text-anchor="middle" fill="#151515" stroke="#151515" stroke-width="0.12" >5-10 div.</text>
<text x="389" y="57.9" font-size="8.3" text-anchor="middle" fill="#151515" stroke="#151515" stroke-width="0.12" >10.7%</text>
<line x1="375.3" y1="60.2" x2="404.1" y2="60.2" stroke="#2a2a2a" stroke-width="1.3"/>
<line x1="375.3" y1="56.6" x2="375.3" y2="63.5" stroke="#2a2a2a" stroke-width="1.3"/>
<line x1="404.1" y1="56.6" x2="404.1" y2="63.5" stroke="#2a2a2a" stroke-width="1.3"/>
<text x="391.2" y="68.5" font-size="8.3" text-anchor="middle" fill="#151515" stroke="#151515" stroke-width="0.12" >1-4 div.</text>
<text x="414.6" y="91.9" font-size="8.3" text-anchor="middle" fill="#151515" stroke="#151515" stroke-width="0.12" >0.1%</text>
<line x1="402.8" y1="94.6" x2="424.8" y2="94.6" stroke="#2a2a2a" stroke-width="1.2"/>
<text x="415.1" y="103.4" font-size="8.3" text-anchor="middle" fill="#151515" stroke="#151515" stroke-width="0.12" >0 div.</text>
<line x1="412.5" y1="105.8" x2="409.31" y2="110.46" stroke="#000" stroke-width="1.4"/>
<polygon points="406.2,115 406.78,108.13 412.4,111.97" fill="#000"/>
<polygon points="215.5,239.2 216,238.6 222.3,237.5 228,236.3 231.5,234 233.8,230 235.8,226.1 236.8,224 238.2,218 238.6,216.5 239.1,216.2 239.9,211.4 240.6,208 241.3,206.1 242,208 243.1,211.4 243.9,216.2 244.7,222 245.5,225.3 246.4,222 247.2,210.5 248.4,200 249.5,190 250.5,183.3 251.5,190 252,200 252.4,210.5 253.2,216.2 254,205 254.5,200 255.6,187.3 256.6,180 257.5,175.8 258.4,180 259.3,187.3 259.3,200 261,216.2 261.4,222 261.7,226 262,234.2 263.3,234.2 264,228 265.5,227.5 266.5,230 268.3,234 269.8,237.8 270.3,239.2" fill="#000"/>
<line x1="188.1" y1="143.5" x2="292.6" y2="143.5" stroke="#2a2a2a" stroke-width="1.4"/>
<line x1="292.1" y1="143" x2="292.1" y2="239.3" stroke="#2a2a2a" stroke-width="1.4"/>
<line x1="188.1" y1="142.9" x2="188.1" y2="242.5" stroke="#2a2a2a" stroke-width="1.3"/>
<line x1="187.5" y1="239.3" x2="292.7" y2="239.3" stroke="#2a2a2a" stroke-width="1.3"/>
<line x1="195.93" y1="239.3" x2="195.93" y2="241.3" stroke="#1a1a1a" stroke-width="1.0"/>
<line x1="200.51" y1="239.3" x2="200.51" y2="241.3" stroke="#1a1a1a" stroke-width="1.0"/>
<line x1="203.75" y1="239.3" x2="203.75" y2="241.3" stroke="#1a1a1a" stroke-width="1.0"/>
<line x1="206.27" y1="239.3" x2="206.27" y2="241.3" stroke="#1a1a1a" stroke-width="1.0"/>
<line x1="208.33" y1="239.3" x2="208.33" y2="241.3" stroke="#1a1a1a" stroke-width="1.0"/>
<line x1="210.07" y1="239.3" x2="210.07" y2="241.3" stroke="#1a1a1a" stroke-width="1.0"/>
<line x1="211.58" y1="239.3" x2="211.58" y2="241.3" stroke="#1a1a1a" stroke-width="1.0"/>
<line x1="212.91" y1="239.3" x2="212.91" y2="241.3" stroke="#1a1a1a" stroke-width="1.0"/>
<line x1="221.93" y1="239.3" x2="221.93" y2="241.3" stroke="#1a1a1a" stroke-width="1.0"/>
<line x1="226.51" y1="239.3" x2="226.51" y2="241.3" stroke="#1a1a1a" stroke-width="1.0"/>
<line x1="229.75" y1="239.3" x2="229.75" y2="241.3" stroke="#1a1a1a" stroke-width="1.0"/>
<line x1="232.27" y1="239.3" x2="232.27" y2="241.3" stroke="#1a1a1a" stroke-width="1.0"/>
<line x1="234.33" y1="239.3" x2="234.33" y2="241.3" stroke="#1a1a1a" stroke-width="1.0"/>
<line x1="236.07" y1="239.3" x2="236.07" y2="241.3" stroke="#1a1a1a" stroke-width="1.0"/>
<line x1="237.58" y1="239.3" x2="237.58" y2="241.3" stroke="#1a1a1a" stroke-width="1.0"/>
<line x1="238.91" y1="239.3" x2="238.91" y2="241.3" stroke="#1a1a1a" stroke-width="1.0"/>
<line x1="247.93" y1="239.3" x2="247.93" y2="241.3" stroke="#1a1a1a" stroke-width="1.0"/>
<line x1="252.51" y1="239.3" x2="252.51" y2="241.3" stroke="#1a1a1a" stroke-width="1.0"/>
<line x1="255.75" y1="239.3" x2="255.75" y2="241.3" stroke="#1a1a1a" stroke-width="1.0"/>
<line x1="258.27" y1="239.3" x2="258.27" y2="241.3" stroke="#1a1a1a" stroke-width="1.0"/>
<line x1="260.33" y1="239.3" x2="260.33" y2="241.3" stroke="#1a1a1a" stroke-width="1.0"/>
<line x1="262.07" y1="239.3" x2="262.07" y2="241.3" stroke="#1a1a1a" stroke-width="1.0"/>
<line x1="263.58" y1="239.3" x2="263.58" y2="241.3" stroke="#1a1a1a" stroke-width="1.0"/>
<line x1="264.91" y1="239.3" x2="264.91" y2="241.3" stroke="#1a1a1a" stroke-width="1.0"/>
<line x1="273.93" y1="239.3" x2="273.93" y2="241.3" stroke="#1a1a1a" stroke-width="1.0"/>
<line x1="278.51" y1="239.3" x2="278.51" y2="241.3" stroke="#1a1a1a" stroke-width="1.0"/>
<line x1="281.75" y1="239.3" x2="281.75" y2="241.3" stroke="#1a1a1a" stroke-width="1.0"/>
<line x1="284.27" y1="239.3" x2="284.27" y2="241.3" stroke="#1a1a1a" stroke-width="1.0"/>
<line x1="286.33" y1="239.3" x2="286.33" y2="241.3" stroke="#1a1a1a" stroke-width="1.0"/>
<line x1="288.07" y1="239.3" x2="288.07" y2="241.3" stroke="#1a1a1a" stroke-width="1.0"/>
<line x1="289.58" y1="239.3" x2="289.58" y2="241.3" stroke="#1a1a1a" stroke-width="1.0"/>
<line x1="290.91" y1="239.3" x2="290.91" y2="241.3" stroke="#1a1a1a" stroke-width="1.0"/>
<line x1="214.1" y1="239.3" x2="214.1" y2="242.5" stroke="#2a2a2a" stroke-width="1.1"/>
<line x1="240.1" y1="239.3" x2="240.1" y2="242.5" stroke="#2a2a2a" stroke-width="1.1"/>
<line x1="266.1" y1="239.3" x2="266.1" y2="242.5" stroke="#2a2a2a" stroke-width="1.1"/>
<line x1="292.1" y1="239.3" x2="292.1" y2="242.5" stroke="#2a2a2a" stroke-width="1.1"/>
<text x="183.1" y="250.6" font-size="7.0" text-anchor="start" fill="#151515" stroke="#151515" stroke-width="0.12" textLength="6.9" lengthAdjust="spacingAndGlyphs">10</text>
<text x="190.3" y="246.4" font-size="6.4" text-anchor="start" fill="#151515" stroke="#151515" stroke-width="0.12" >0</text>
<text x="209.1" y="250.6" font-size="7.0" text-anchor="start" fill="#151515" stroke="#151515" stroke-width="0.12" textLength="6.9" lengthAdjust="spacingAndGlyphs">10</text>
<text x="216.3" y="246.4" font-size="6.4" text-anchor="start" fill="#151515" stroke="#151515" stroke-width="0.12" >1</text>
<text x="235.1" y="250.6" font-size="7.0" text-anchor="start" fill="#151515" stroke="#151515" stroke-width="0.12" textLength="6.9" lengthAdjust="spacingAndGlyphs">10</text>
<text x="242.3" y="246.4" font-size="6.4" text-anchor="start" fill="#151515" stroke="#151515" stroke-width="0.12" >2</text>
<text x="261.1" y="250.6" font-size="7.0" text-anchor="start" fill="#151515" stroke="#151515" stroke-width="0.12" textLength="6.9" lengthAdjust="spacingAndGlyphs">10</text>
<text x="268.3" y="246.4" font-size="6.4" text-anchor="start" fill="#151515" stroke="#151515" stroke-width="0.12" >3</text>
<text x="287.1" y="250.6" font-size="7.0" text-anchor="start" fill="#151515" stroke="#151515" stroke-width="0.12" textLength="6.9" lengthAdjust="spacingAndGlyphs">10</text>
<text x="294.3" y="246.4" font-size="6.4" text-anchor="start" fill="#151515" stroke="#151515" stroke-width="0.12" >4</text>
<line x1="184.5" y1="238.6" x2="188.1" y2="238.6" stroke="#2a2a2a" stroke-width="1.1"/>
<line x1="185.8" y1="234.84" x2="188.1" y2="234.84" stroke="#1a1a1a" stroke-width="1.0"/>
<line x1="185.8" y1="231.07" x2="188.1" y2="231.07" stroke="#1a1a1a" stroke-width="1.0"/>
<line x1="185.8" y1="227.31" x2="188.1" y2="227.31" stroke="#1a1a1a" stroke-width="1.0"/>
<line x1="185.8" y1="223.54" x2="188.1" y2="223.54" stroke="#1a1a1a" stroke-width="1.0"/>
<line x1="184.5" y1="219.78" x2="188.1" y2="219.78" stroke="#2a2a2a" stroke-width="1.1"/>
<line x1="185.8" y1="216.02" x2="188.1" y2="216.02" stroke="#1a1a1a" stroke-width="1.0"/>
<line x1="185.8" y1="212.25" x2="188.1" y2="212.25" stroke="#1a1a1a" stroke-width="1.0"/>
<line x1="185.8" y1="208.49" x2="188.1" y2="208.49" stroke="#1a1a1a" stroke-width="1.0"/>
<line x1="185.8" y1="204.72" x2="188.1" y2="204.72" stroke="#1a1a1a" stroke-width="1.0"/>
<line x1="184.5" y1="200.96" x2="188.1" y2="200.96" stroke="#2a2a2a" stroke-width="1.1"/>
<line x1="185.8" y1="197.2" x2="188.1" y2="197.2" stroke="#1a1a1a" stroke-width="1.0"/>
<line x1="185.8" y1="193.43" x2="188.1" y2="193.43" stroke="#1a1a1a" stroke-width="1.0"/>
<line x1="185.8" y1="189.67" x2="188.1" y2="189.67" stroke="#1a1a1a" stroke-width="1.0"/>
<line x1="185.8" y1="185.9" x2="188.1" y2="185.9" stroke="#1a1a1a" stroke-width="1.0"/>
<line x1="184.5" y1="182.14" x2="188.1" y2="182.14" stroke="#2a2a2a" stroke-width="1.1"/>
<line x1="185.8" y1="178.38" x2="188.1" y2="178.38" stroke="#1a1a1a" stroke-width="1.0"/>
<line x1="185.8" y1="174.61" x2="188.1" y2="174.61" stroke="#1a1a1a" stroke-width="1.0"/>
<line x1="185.8" y1="170.85" x2="188.1" y2="170.85" stroke="#1a1a1a" stroke-width="1.0"/>
<line x1="185.8" y1="167.08" x2="188.1" y2="167.08" stroke="#1a1a1a" stroke-width="1.0"/>
<line x1="184.5" y1="163.32" x2="188.1" y2="163.32" stroke="#2a2a2a" stroke-width="1.1"/>
<line x1="185.8" y1="159.56" x2="188.1" y2="159.56" stroke="#1a1a1a" stroke-width="1.0"/>
<line x1="185.8" y1="155.79" x2="188.1" y2="155.79" stroke="#1a1a1a" stroke-width="1.0"/>
<line x1="185.8" y1="152.03" x2="188.1" y2="152.03" stroke="#1a1a1a" stroke-width="1.0"/>
<line x1="185.8" y1="148.26" x2="188.1" y2="148.26" stroke="#1a1a1a" stroke-width="1.0"/>
<line x1="184.5" y1="144.5" x2="188.1" y2="144.5" stroke="#2a2a2a" stroke-width="1.1"/>
<text transform="translate(179.1,238.6) rotate(-90)" x="0" y="2.59" font-size="7.2" text-anchor="middle" fill="#151515" stroke="#151515" stroke-width="0.12" >0</text>
<text transform="translate(179.1,219.78) rotate(-90)" x="0" y="2.59" font-size="7.2" text-anchor="middle" fill="#151515" stroke="#151515" stroke-width="0.12" >20</text>
<text transform="translate(179.1,200.96) rotate(-90)" x="0" y="2.59" font-size="7.2" text-anchor="middle" fill="#151515" stroke="#151515" stroke-width="0.12" >40</text>
<text transform="translate(179.1,182.14) rotate(-90)" x="0" y="2.59" font-size="7.2" text-anchor="middle" fill="#151515" stroke="#151515" stroke-width="0.12" >60</text>
<text transform="translate(179.1,163.32) rotate(-90)" x="0" y="2.59" font-size="7.2" text-anchor="middle" fill="#151515" stroke="#151515" stroke-width="0.12" >80</text>
<text transform="translate(179.1,144.5) rotate(-90)" x="0" y="2.59" font-size="7.2" text-anchor="middle" fill="#151515" stroke="#151515" stroke-width="0.12" >100</text>
<text x="245.5" y="160" font-size="8.3" text-anchor="middle" fill="#151515" stroke="#151515" stroke-width="0.12" >98.0%</text>
<line x1="227.2" y1="163.5" x2="261.3" y2="163.5" stroke="#2a2a2a" stroke-width="1.3"/>
<line x1="227.2" y1="159.6" x2="227.2" y2="166.8" stroke="#2a2a2a" stroke-width="1.3"/>
<line x1="261.3" y1="159.6" x2="261.3" y2="166.8" stroke="#2a2a2a" stroke-width="1.3"/>
<text x="245" y="173" font-size="8.3" text-anchor="middle" fill="#151515" stroke="#151515" stroke-width="0.12" >1-4 div.</text>
<text x="274.6" y="209.9" font-size="8.3" text-anchor="middle" fill="#151515" stroke="#151515" stroke-width="0.12" >2%</text>
<line x1="265" y1="213.5" x2="286.9" y2="213.5" stroke="#2a2a2a" stroke-width="1.2"/>
<text x="277.1" y="222.6" font-size="8.3" text-anchor="middle" fill="#151515" stroke="#151515" stroke-width="0.12" >0 div.</text>
<line x1="269.4" y1="225.1" x2="267.96" y2="226.8" stroke="#000" stroke-width="1.4"/>
<polygon points="264.4,231 265.69,224.22 270.87,228.62" fill="#000"/>
<polygon points="344.5,238.1 346.5,237.1 350,233 352.5,227 355.4,217.2 357.8,211.5 358.6,207 359.1,205 360.3,199.2 361.5,195 362.5,193.1 363.2,195 363.9,199.2 364.1,205 364.5,209.9 365.1,205 365.5,193.9 365.9,189.9 366.3,185.5 367,184 367.6,185 368.4,189.9 369.2,193.9 370,205 370.8,211.5 371.3,205 371.6,187 372,185 373.2,183.7 374,172 374.3,168.2 374.8,168.2 375,175 375.3,183.7 375.7,187 376.2,195 377,200.7 377.8,195 378.5,190 379.2,187.4 380,190 381,193.1 381,195 382.1,205.5 383,217 383.8,221.5 384.8,217 385.5,212 385.8,208.8 386.5,204 387.2,202.7 388,204 389,208.8 389.4,215 390.7,217 391.1,227.2 391.8,228 393,224 394.2,220 395.1,218.6 396,220.5 397.5,228 398.8,233.7 400.8,229.6 401.8,230.5 403,233 404.8,234.6 406.5,234.8 407.7,234 409,236 410.5,236.5 412,237.2 414.6,237.8 415,238.1" fill="#000"/>
<line x1="333.3" y1="142.8" x2="436.9" y2="142.8" stroke="#2a2a2a" stroke-width="1.4"/>
<line x1="436.4" y1="142.3" x2="436.4" y2="197.4" stroke="#2a2a2a" stroke-width="1.4"/>
<line x1="333.3" y1="142.2" x2="333.3" y2="241.3" stroke="#2a2a2a" stroke-width="1.3"/>
<line x1="332.7" y1="238.1" x2="437" y2="238.1" stroke="#2a2a2a" stroke-width="1.3"/>
<line x1="341.06" y1="238.1" x2="341.06" y2="240.1" stroke="#1a1a1a" stroke-width="1.0"/>
<line x1="345.6" y1="238.1" x2="345.6" y2="240.1" stroke="#1a1a1a" stroke-width="1.0"/>
<line x1="348.82" y1="238.1" x2="348.82" y2="240.1" stroke="#1a1a1a" stroke-width="1.0"/>
<line x1="351.32" y1="238.1" x2="351.32" y2="240.1" stroke="#1a1a1a" stroke-width="1.0"/>
<line x1="353.36" y1="238.1" x2="353.36" y2="240.1" stroke="#1a1a1a" stroke-width="1.0"/>
<line x1="355.08" y1="238.1" x2="355.08" y2="240.1" stroke="#1a1a1a" stroke-width="1.0"/>
<line x1="356.58" y1="238.1" x2="356.58" y2="240.1" stroke="#1a1a1a" stroke-width="1.0"/>
<line x1="357.9" y1="238.1" x2="357.9" y2="240.1" stroke="#1a1a1a" stroke-width="1.0"/>
<line x1="366.83" y1="238.1" x2="366.83" y2="240.1" stroke="#1a1a1a" stroke-width="1.0"/>
<line x1="371.37" y1="238.1" x2="371.37" y2="240.1" stroke="#1a1a1a" stroke-width="1.0"/>
<line x1="374.59" y1="238.1" x2="374.59" y2="240.1" stroke="#1a1a1a" stroke-width="1.0"/>
<line x1="377.09" y1="238.1" x2="377.09" y2="240.1" stroke="#1a1a1a" stroke-width="1.0"/>
<line x1="379.13" y1="238.1" x2="379.13" y2="240.1" stroke="#1a1a1a" stroke-width="1.0"/>
<line x1="380.86" y1="238.1" x2="380.86" y2="240.1" stroke="#1a1a1a" stroke-width="1.0"/>
<line x1="382.35" y1="238.1" x2="382.35" y2="240.1" stroke="#1a1a1a" stroke-width="1.0"/>
<line x1="383.67" y1="238.1" x2="383.67" y2="240.1" stroke="#1a1a1a" stroke-width="1.0"/>
<line x1="392.61" y1="238.1" x2="392.61" y2="240.1" stroke="#1a1a1a" stroke-width="1.0"/>
<line x1="397.15" y1="238.1" x2="397.15" y2="240.1" stroke="#1a1a1a" stroke-width="1.0"/>
<line x1="400.37" y1="238.1" x2="400.37" y2="240.1" stroke="#1a1a1a" stroke-width="1.0"/>
<line x1="402.87" y1="238.1" x2="402.87" y2="240.1" stroke="#1a1a1a" stroke-width="1.0"/>
<line x1="404.91" y1="238.1" x2="404.91" y2="240.1" stroke="#1a1a1a" stroke-width="1.0"/>
<line x1="406.63" y1="238.1" x2="406.63" y2="240.1" stroke="#1a1a1a" stroke-width="1.0"/>
<line x1="408.13" y1="238.1" x2="408.13" y2="240.1" stroke="#1a1a1a" stroke-width="1.0"/>
<line x1="409.45" y1="238.1" x2="409.45" y2="240.1" stroke="#1a1a1a" stroke-width="1.0"/>
<line x1="418.38" y1="238.1" x2="418.38" y2="240.1" stroke="#1a1a1a" stroke-width="1.0"/>
<line x1="422.92" y1="238.1" x2="422.92" y2="240.1" stroke="#1a1a1a" stroke-width="1.0"/>
<line x1="426.14" y1="238.1" x2="426.14" y2="240.1" stroke="#1a1a1a" stroke-width="1.0"/>
<line x1="428.64" y1="238.1" x2="428.64" y2="240.1" stroke="#1a1a1a" stroke-width="1.0"/>
<line x1="430.68" y1="238.1" x2="430.68" y2="240.1" stroke="#1a1a1a" stroke-width="1.0"/>
<line x1="432.41" y1="238.1" x2="432.41" y2="240.1" stroke="#1a1a1a" stroke-width="1.0"/>
<line x1="433.9" y1="238.1" x2="433.9" y2="240.1" stroke="#1a1a1a" stroke-width="1.0"/>
<line x1="435.22" y1="238.1" x2="435.22" y2="240.1" stroke="#1a1a1a" stroke-width="1.0"/>
<line x1="359.07" y1="238.1" x2="359.07" y2="241.3" stroke="#2a2a2a" stroke-width="1.1"/>
<line x1="384.85" y1="238.1" x2="384.85" y2="241.3" stroke="#2a2a2a" stroke-width="1.1"/>
<line x1="410.62" y1="238.1" x2="410.62" y2="241.3" stroke="#2a2a2a" stroke-width="1.1"/>
<line x1="436.4" y1="238.1" x2="436.4" y2="241.3" stroke="#2a2a2a" stroke-width="1.1"/>
<text x="328.3" y="249.4" font-size="7.0" text-anchor="start" fill="#151515" stroke="#151515" stroke-width="0.12" textLength="6.9" lengthAdjust="spacingAndGlyphs">10</text>
<text x="335.5" y="245.2" font-size="6.4" text-anchor="start" fill="#151515" stroke="#151515" stroke-width="0.12" >0</text>
<text x="354.07" y="249.4" font-size="7.0" text-anchor="start" fill="#151515" stroke="#151515" stroke-width="0.12" textLength="6.9" lengthAdjust="spacingAndGlyphs">10</text>
<text x="361.27" y="245.2" font-size="6.4" text-anchor="start" fill="#151515" stroke="#151515" stroke-width="0.12" >1</text>
<text x="379.85" y="249.4" font-size="7.0" text-anchor="start" fill="#151515" stroke="#151515" stroke-width="0.12" textLength="6.9" lengthAdjust="spacingAndGlyphs">10</text>
<text x="387.05" y="245.2" font-size="6.4" text-anchor="start" fill="#151515" stroke="#151515" stroke-width="0.12" >2</text>
<text x="405.62" y="249.4" font-size="7.0" text-anchor="start" fill="#151515" stroke="#151515" stroke-width="0.12" textLength="6.9" lengthAdjust="spacingAndGlyphs">10</text>
<text x="412.82" y="245.2" font-size="6.4" text-anchor="start" fill="#151515" stroke="#151515" stroke-width="0.12" >3</text>
<line x1="329.7" y1="237.1" x2="333.3" y2="237.1" stroke="#2a2a2a" stroke-width="1.1"/>
<line x1="331" y1="233.98" x2="333.3" y2="233.98" stroke="#1a1a1a" stroke-width="1.0"/>
<line x1="331" y1="230.86" x2="333.3" y2="230.86" stroke="#1a1a1a" stroke-width="1.0"/>
<line x1="331" y1="227.74" x2="333.3" y2="227.74" stroke="#1a1a1a" stroke-width="1.0"/>
<line x1="331" y1="224.62" x2="333.3" y2="224.62" stroke="#1a1a1a" stroke-width="1.0"/>
<line x1="329.7" y1="221.5" x2="333.3" y2="221.5" stroke="#2a2a2a" stroke-width="1.1"/>
<line x1="331" y1="218.38" x2="333.3" y2="218.38" stroke="#1a1a1a" stroke-width="1.0"/>
<line x1="331" y1="215.26" x2="333.3" y2="215.26" stroke="#1a1a1a" stroke-width="1.0"/>
<line x1="331" y1="212.14" x2="333.3" y2="212.14" stroke="#1a1a1a" stroke-width="1.0"/>
<line x1="331" y1="209.02" x2="333.3" y2="209.02" stroke="#1a1a1a" stroke-width="1.0"/>
<line x1="329.7" y1="205.9" x2="333.3" y2="205.9" stroke="#2a2a2a" stroke-width="1.1"/>
<line x1="331" y1="202.78" x2="333.3" y2="202.78" stroke="#1a1a1a" stroke-width="1.0"/>
<line x1="331" y1="199.66" x2="333.3" y2="199.66" stroke="#1a1a1a" stroke-width="1.0"/>
<line x1="331" y1="196.54" x2="333.3" y2="196.54" stroke="#1a1a1a" stroke-width="1.0"/>
<line x1="331" y1="193.42" x2="333.3" y2="193.42" stroke="#1a1a1a" stroke-width="1.0"/>
<line x1="329.7" y1="190.3" x2="333.3" y2="190.3" stroke="#2a2a2a" stroke-width="1.1"/>
<line x1="331" y1="187.18" x2="333.3" y2="187.18" stroke="#1a1a1a" stroke-width="1.0"/>
<line x1="331" y1="184.06" x2="333.3" y2="184.06" stroke="#1a1a1a" stroke-width="1.0"/>
<line x1="331" y1="180.94" x2="333.3" y2="180.94" stroke="#1a1a1a" stroke-width="1.0"/>
<line x1="331" y1="177.82" x2="333.3" y2="177.82" stroke="#1a1a1a" stroke-width="1.0"/>
<line x1="329.7" y1="174.7" x2="333.3" y2="174.7" stroke="#2a2a2a" stroke-width="1.1"/>
<line x1="331" y1="171.58" x2="333.3" y2="171.58" stroke="#1a1a1a" stroke-width="1.0"/>
<line x1="331" y1="168.46" x2="333.3" y2="168.46" stroke="#1a1a1a" stroke-width="1.0"/>
<line x1="331" y1="165.34" x2="333.3" y2="165.34" stroke="#1a1a1a" stroke-width="1.0"/>
<line x1="331" y1="162.22" x2="333.3" y2="162.22" stroke="#1a1a1a" stroke-width="1.0"/>
<line x1="329.7" y1="159.1" x2="333.3" y2="159.1" stroke="#2a2a2a" stroke-width="1.1"/>
<line x1="331" y1="155.98" x2="333.3" y2="155.98" stroke="#1a1a1a" stroke-width="1.0"/>
<line x1="331" y1="152.86" x2="333.3" y2="152.86" stroke="#1a1a1a" stroke-width="1.0"/>
<line x1="331" y1="149.74" x2="333.3" y2="149.74" stroke="#1a1a1a" stroke-width="1.0"/>
<line x1="331" y1="146.62" x2="333.3" y2="146.62" stroke="#1a1a1a" stroke-width="1.0"/>
<line x1="329.7" y1="143.5" x2="333.3" y2="143.5" stroke="#2a2a2a" stroke-width="1.1"/>
<text transform="translate(324.3,237.1) rotate(-90)" x="0" y="2.59" font-size="7.2" text-anchor="middle" fill="#151515" stroke="#151515" stroke-width="0.12" >0</text>
<text transform="translate(324.3,221.5) rotate(-90)" x="0" y="2.59" font-size="7.2" text-anchor="middle" fill="#151515" stroke="#151515" stroke-width="0.12" >5</text>
<text transform="translate(324.3,205.9) rotate(-90)" x="0" y="2.59" font-size="7.2" text-anchor="middle" fill="#151515" stroke="#151515" stroke-width="0.12" >10</text>
<text transform="translate(324.3,190.3) rotate(-90)" x="0" y="2.59" font-size="7.2" text-anchor="middle" fill="#151515" stroke="#151515" stroke-width="0.12" >15</text>
<text transform="translate(324.3,174.7) rotate(-90)" x="0" y="2.59" font-size="7.2" text-anchor="middle" fill="#151515" stroke="#151515" stroke-width="0.12" >20</text>
<text transform="translate(324.3,159.1) rotate(-90)" x="0" y="2.59" font-size="7.2" text-anchor="middle" fill="#151515" stroke="#151515" stroke-width="0.12" >25</text>
<text transform="translate(324.3,143.5) rotate(-90)" x="0" y="2.59" font-size="7.2" text-anchor="middle" fill="#151515" stroke="#151515" stroke-width="0.12" >30</text>
<text transform="translate(317.2,192.1) rotate(-90)" x="0" y="2.45" font-size="6.8" text-anchor="middle" fill="#151515" stroke="#151515" stroke-width="0.12" >Counts</text>
<text x="360.5" y="154" font-size="8.3" text-anchor="middle" fill="#151515" stroke="#151515" stroke-width="0.12" >58.3%</text>
<line x1="343.2" y1="156.9" x2="377.3" y2="156.9" stroke="#2a2a2a" stroke-width="1.3"/>
<line x1="343.2" y1="153.1" x2="343.2" y2="160.3" stroke="#2a2a2a" stroke-width="1.3"/>
<line x1="377.3" y1="153.1" x2="377.3" y2="160.3" stroke="#2a2a2a" stroke-width="1.3"/>
<text x="361" y="166" font-size="8.3" text-anchor="middle" fill="#151515" stroke="#151515" stroke-width="0.12" >5-10 div.</text>
<text x="392.6" y="171.9" font-size="8.3" text-anchor="middle" fill="#151515" stroke="#151515" stroke-width="0.12" >41.6%</text>
<line x1="377.7" y1="175.2" x2="407" y2="175.2" stroke="#2a2a2a" stroke-width="1.3"/>
<line x1="377.7" y1="172" x2="377.7" y2="178.75" stroke="#2a2a2a" stroke-width="1.3"/>
<line x1="407" y1="172" x2="407" y2="178.75" stroke="#2a2a2a" stroke-width="1.3"/>
<text x="393.6" y="183.9" font-size="8.3" text-anchor="middle" fill="#151515" stroke="#151515" stroke-width="0.12" >1-4 div.</text>
<text x="416.6" y="210.3" font-size="8.3" text-anchor="middle" fill="#151515" stroke="#151515" stroke-width="0.12" >0.1%</text>
<line x1="405.4" y1="213.5" x2="426.7" y2="213.5" stroke="#2a2a2a" stroke-width="1.2"/>
<text x="417.5" y="223" font-size="8.3" text-anchor="middle" fill="#151515" stroke="#151515" stroke-width="0.12" >0 div.</text>
<line x1="414.6" y1="224.8" x2="412.21" y2="229.01" stroke="#000" stroke-width="1.4"/>
<polygon points="409.5,233.8 409.5,226.9 415.42,230.26" fill="#000"/>
<text x="445.4" y="78.8" font-size="10.3" text-anchor="start" fill="#151515" stroke="#151515" stroke-width="0.12" >Cytokines alone</text>
<text x="482.3" y="187.6" font-size="10.3" text-anchor="middle" fill="#151515" stroke="#151515" stroke-width="0.12" >Cytokines</text>
<text x="482.7" y="201.7" font-size="10.3" text-anchor="middle" fill="#151515" stroke="#151515" stroke-width="0.12" >+5azaD/TSA</text>
<line x1="4" y1="29.5" x2="4" y2="106.3" stroke="#333" stroke-width="1.9"/>
<polygon points="0.6,30.6 7.5,30.6 4.05,23.6" fill="#111"/>
<line x1="4" y1="172.7" x2="4" y2="245" stroke="#333" stroke-width="1.9"/>
<text transform="translate(4.4,140.4) rotate(-90)" x="0" y="3.82" font-size="10.6" text-anchor="middle" fill="#151515" stroke="#151515" stroke-width="0.12" >Cell number</text>
<line x1="34" y1="267" x2="238" y2="267" stroke="#333" stroke-width="1.9"/>
<line x1="285.8" y1="267" x2="440" y2="267" stroke="#333" stroke-width="1.9"/>
<polygon points="438.8,263.2 438.8,270.8 446.2,267" fill="#111"/>
<text x="261.2" y="270.8" font-size="10.1" text-anchor="middle" fill="#151515" stroke="#151515" stroke-width="0.12" >CFSE</text>
</svg>
</body></html>
